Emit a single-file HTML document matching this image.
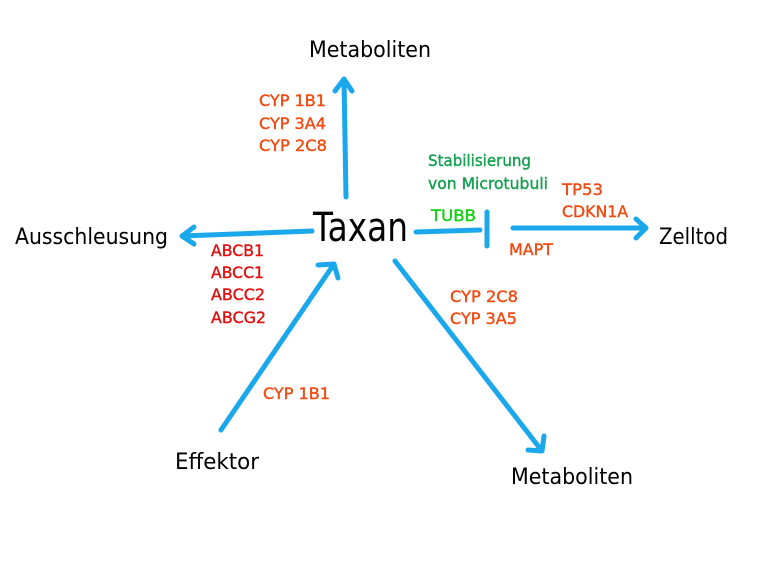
<!DOCTYPE html>
<html><head><meta charset="utf-8"><style>body{margin:0;background:#fff}svg{display:block}</style></head><body>
<svg width="757" height="561" viewBox="0 0 757 561" xmlns="http://www.w3.org/2000/svg">
<g stroke="#1aa7ec" stroke-width="5" fill="none" stroke-linecap="round" stroke-linejoin="round">
<path d="M346 197 L344 79 M335 91 L344 79 L352 91"/>
<path d="M312 231 L182 236 M194 227 L182 236 L194 244"/>
<path d="M416 232 L480 230 M487 212 L487 246"/>
<path d="M513 228 L646 228 M636 219 L646 228 L636 238"/>
<path d="M395 261 L542 451 M528 450 L542 451 L544 436"/>
<path d="M221 430 L334 264 M318 265 L334 264 L338 278"/>
</g>
<g font-family="'DejaVu Sans', Verdana, sans-serif" fill="#000">
<text x="313" y="241" font-size="40" textLength="95" lengthAdjust="spacingAndGlyphs">Taxan</text>
<text x="309" y="57" font-size="22" textLength="122" lengthAdjust="spacingAndGlyphs">Metaboliten</text>
<text x="511" y="484" font-size="22" textLength="122" lengthAdjust="spacingAndGlyphs">Metaboliten</text>
<text x="15" y="244" font-size="22" textLength="153" lengthAdjust="spacingAndGlyphs">Ausschleusung</text>
<text x="659" y="244" font-size="22" textLength="69" lengthAdjust="spacingAndGlyphs">Zelltod</text>
<text x="175" y="469" font-size="22" textLength="84" lengthAdjust="spacingAndGlyphs">Effektor</text>
</g>
<g font-family="'DejaVu Sans', Verdana, sans-serif" font-size="16" fill="#f04a10" stroke="#f04a10" stroke-width="0.4">
<text x="259" y="106" textLength="67" lengthAdjust="spacingAndGlyphs">CYP 1B1</text>
<text x="259" y="129" textLength="67" lengthAdjust="spacingAndGlyphs">CYP 3A4</text>
<text x="259" y="151" textLength="68" lengthAdjust="spacingAndGlyphs">CYP 2C8</text>
<text x="562" y="195" textLength="41" lengthAdjust="spacingAndGlyphs">TP53</text>
<text x="562" y="217" textLength="66" lengthAdjust="spacingAndGlyphs">CDKN1A</text>
<text x="509" y="255" textLength="44" lengthAdjust="spacingAndGlyphs">MAPT</text>
<text x="450" y="302" textLength="68" lengthAdjust="spacingAndGlyphs">CYP 2C8</text>
<text x="450" y="324" textLength="67" lengthAdjust="spacingAndGlyphs">CYP 3A5</text>
<text x="263" y="399" textLength="67" lengthAdjust="spacingAndGlyphs">CYP 1B1</text>
</g>
<g font-family="'DejaVu Sans', Verdana, sans-serif" font-size="16" fill="#e01010" stroke="#e01010" stroke-width="0.4">
<text x="211" y="256" textLength="53" lengthAdjust="spacingAndGlyphs">ABCB1</text>
<text x="211" y="278" textLength="53" lengthAdjust="spacingAndGlyphs">ABCC1</text>
<text x="211" y="300" textLength="54" lengthAdjust="spacingAndGlyphs">ABCC2</text>
<text x="211" y="323" textLength="55" lengthAdjust="spacingAndGlyphs">ABCG2</text>
</g>
<g font-family="'DejaVu Sans', Verdana, sans-serif" font-size="16" stroke-width="0.4">
<text x="428" y="166" fill="#14a050" stroke="#14a050" textLength="103" lengthAdjust="spacingAndGlyphs">Stabilisierung</text>
<text x="428" y="189" fill="#14a050" stroke="#14a050" textLength="120" lengthAdjust="spacingAndGlyphs">von Microtubuli</text>
<text x="431" y="221" fill="#10d010" stroke="#10d010" textLength="45" lengthAdjust="spacingAndGlyphs">TUBB</text>
</g>
</svg>
</body></html>
